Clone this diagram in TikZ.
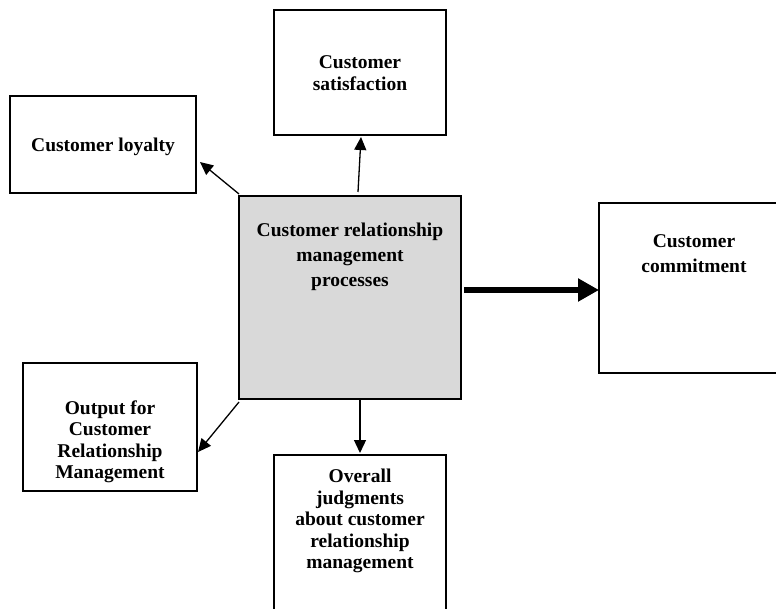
\documentclass[tikz,border=0pt]{standalone}
\usepackage{fontspec}
\setmainfont{Liberation Serif}
\usetikzlibrary{arrows.meta}
\definecolor{boxgray}{RGB}{217,217,217}
\tikzset{
  box/.style={draw=black, line width=1.3pt, rectangle, inner sep=0pt},
  lbl/.style={align=center, font=\bfseries\fontsize{19.5}{21.5}\selectfont, inner sep=0pt},
  lblwide/.style={align=center, font=\bfseries\fontsize{19.5}{25}\selectfont, inner sep=0pt},
  thin/.style={line width=1.3pt, -{Triangle[length=13pt,width=12pt]}},
  thick/.style={line width=6pt, -{Triangle[length=21pt,width=22pt]}}
}
\begin{document}
\begin{tikzpicture}[x=1pt,y=-1pt]
\useasboundingbox (0,0) rectangle (776,609);
\clip (0,0) rectangle (776,609);
\fill[white] (0,0) rectangle (776,609);
% boxes
\node[box, minimum width=172pt, minimum height=125pt] (sat) at (360,72.5) {};
\node[box, minimum width=186pt, minimum height=97pt] (loyal) at (103,144.5) {};
\node[box, fill=boxgray, minimum width=222pt, minimum height=203pt] (crm) at (350,297.5) {};
\node[box, minimum width=190pt, minimum height=170pt] (commit) at (694,288) {};
\node[box, minimum width=174pt, minimum height=128pt] (out) at (110,427) {};
\node[box, minimum width=172pt, minimum height=185pt] (overall) at (360,547.5) {};
% texts
\node[lbl] (tsat) at (360,73) {Customer\\satisfaction};
\node[lbl] (tloyal) at (103,147) {Customer loyalty};
\node[lblwide] (tcrm) at (350,257) {Customer relationship\\management\\processes};
\node[lblwide] (tcommit) at (694,253.5) {Customer\\commitment};
\node[lbl] (tout) at (110,442) {Output for\\Customer\\Relationship\\Management};
\node[lbl] (toverall) at (360,521) {Overall\\judgments\\about customer\\relationship\\management};
% connector ends
\coordinate (aL0) at (239,194);
\coordinate (aL1) at (200,162);
\coordinate (aS0) at (358,192);
\coordinate (aS1) at (361,137);
\coordinate (aO0) at (239,402);
\coordinate (aO1) at (198,452);
\coordinate (aV0) at (360,399);
\coordinate (aV1) at (360,453);
\coordinate (aC0) at (464,290);
\coordinate (aC1) at (599,290);
% connectors
\draw[thin] (aL0) -- (aL1);
\draw[thin] (aS0) -- (aS1);
\draw[thin] (aO0) -- (aO1);
\draw[thin] (aV0) -- (aV1);
\draw[thick] (aC0) -- (aC1);
\end{tikzpicture}
\end{document}
